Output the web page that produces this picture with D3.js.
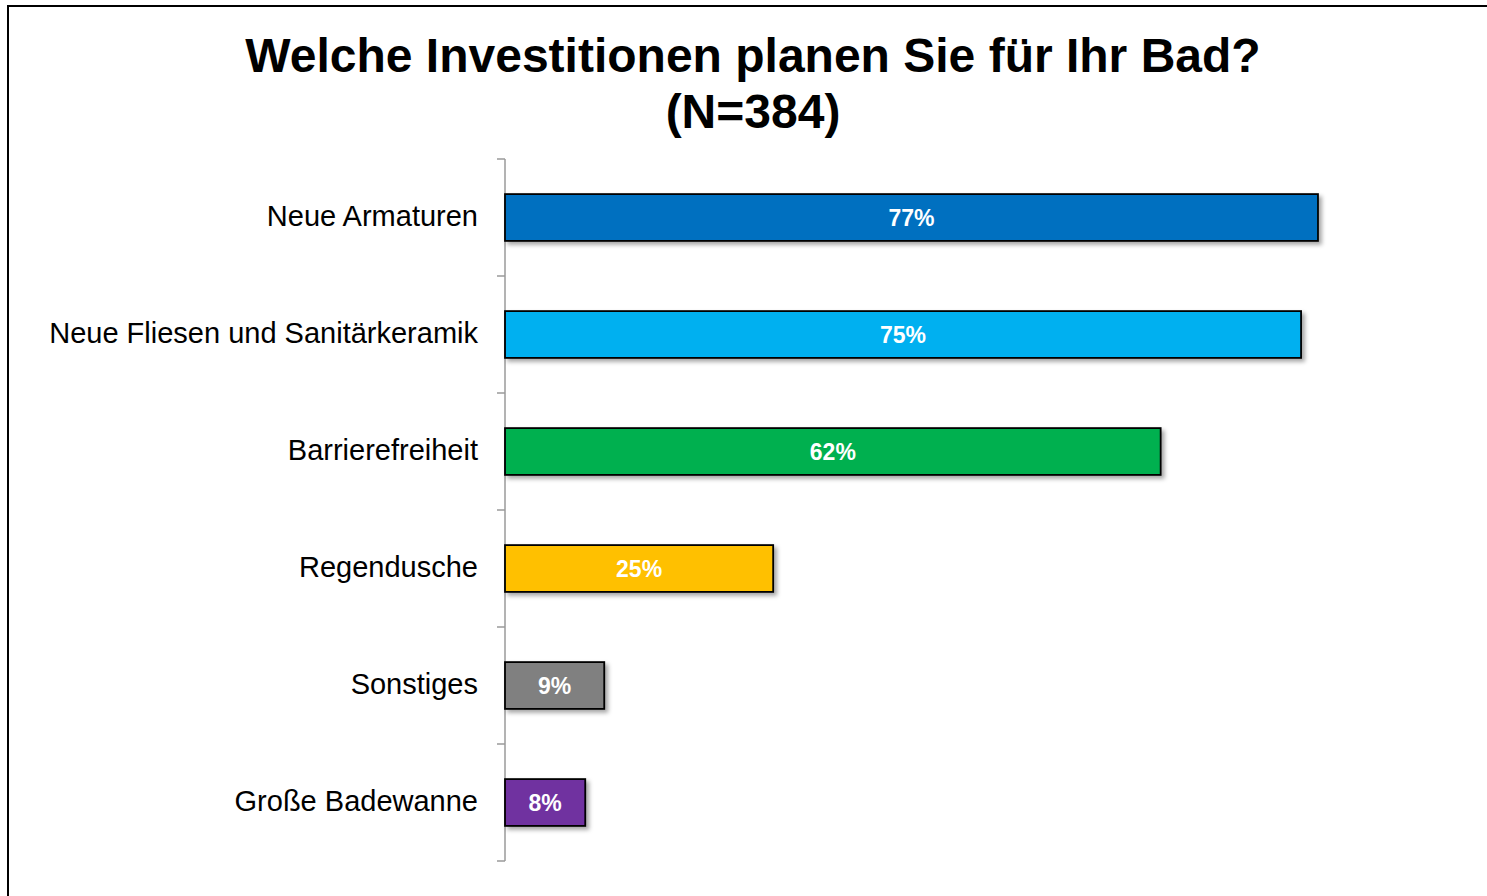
<!DOCTYPE html>
<html>
<head>
<meta charset="utf-8">
<script src="https://cdn.jsdelivr.net/npm/d3@7"></script>
<style>
  body { margin: 0; background: #fff; }
  svg { display: block; font-family: "Liberation Sans", Arial, sans-serif; }
</style>
</head>
<body>
<div id="chart"></div>
<script>
var categories = ["Neue Armaturen", "Neue Fliesen und Sanitärkeramik", "Barrierefreiheit", "Regendusche", "Sonstiges", "Große Badewanne"],
	values = [77, 75.4, 62.1, 25.4, 9.4, 7.6],
	valueLabels = ["77%", "75%", "62%", "25%", "9%", "8%"],
	colors = ["#0070C0", "#00B0F0", "#00B050", "#FFC000", "#808080", "#7030A0"],
	titleLines = ["Welche Investitionen planen Sie für Ihr Bad?", "(N=384)"];

var width = 1487,
	height = 896,
	data = categories.map(function(c, i){
		return {name: c, value: values[i], label: valueLabels[i], color: colors[i]};
	});

var svg = d3.select("#chart")
	.append("svg")
	.attr("width", width)
	.attr("height", height);

var defs = svg.append("defs");
defs.append("filter")
	.attr("id", "shadow")
	.attr("x", "-5%").attr("y", "-20%")
	.attr("width", "115%").attr("height", "160%")
	.append("feDropShadow")
	.attr("dx", 3).attr("dy", 3)
	.attr("stdDeviation", 2)
	.attr("flood-color", "#000")
	.attr("flood-opacity", 0.35);

// frame
svg.append("rect")
	.attr("x", 8).attr("y", 6)
	.attr("width", width + 20).attr("height", height + 20)
	.attr("fill", "none")
	.attr("stroke", "#000")
	.attr("stroke-width", 2);

// title
svg.selectAll(".title")
	.data(titleLines)
	.enter()
	.append("text")
	.attr("class", "title")
	.attr("x", 753)
	.attr("y", function(d, i){ return 72 + i * 56; })
	.attr("text-anchor", "middle")
	.attr("font-size", 48)
	.attr("font-weight", "bold")
	.text(function(d){ return d; });

var x = d3.scaleLinear()
	.domain([0, 80])
	.range([505, 505 + 80 * 10.558]);

var y = d3.scaleBand()
	.domain(categories)
	.range([159, 861])
	.paddingInner(0.6)
	.paddingOuter(0.3);

// category axis: line and ticks on band boundaries
var axis = svg.append("g").attr("class", "axis");
axis.append("line")
	.attr("x1", x(0)).attr("x2", x(0))
	.attr("y1", y.range()[0]).attr("y2", y.range()[1])
	.attr("stroke", "#9a9a9a")
	.attr("stroke-width", 1.5);
axis.selectAll(".tick")
	.data(d3.range(categories.length + 1))
	.enter()
	.append("line")
	.attr("x1", x(0) - 8).attr("x2", x(0))
	.attr("y1", function(i){ return y.range()[0] + i * y.step(); })
	.attr("y2", function(i){ return y.range()[0] + i * y.step(); })
	.attr("stroke", "#9a9a9a")
	.attr("stroke-width", 1.5);

svg.selectAll(".cat")
	.data(data)
	.enter()
	.append("text")
	.attr("class", "cat")
	.attr("x", 478)
	.attr("y", function(d){ return y(d.name) + y.bandwidth() / 2; })
	.attr("dy", "0.3em")
	.attr("text-anchor", "end")
	.attr("font-size", 29)
	.attr("fill", "#000")
	.text(function(d){ return d.name; });

svg.selectAll(".bar")
	.data(data)
	.enter()
	.append("rect")
	.attr("class", "bar")
	.attr("x", x(0))
	.attr("y", function(d){ return y(d.name); })
	.attr("width", function(d){ return x(d.value) - x(0); })
	.attr("height", y.bandwidth())
	.attr("fill", function(d){ return d.color; })
	.attr("stroke", "#000")
	.attr("stroke-width", 1.8)
	.attr("filter", "url(#shadow)");

svg.selectAll(".val")
	.data(data)
	.enter()
	.append("text")
	.attr("class", "val")
	.attr("x", function(d){ return (x(0) + x(d.value)) / 2; })
	.attr("y", function(d){ return y(d.name) + y.bandwidth() / 2; })
	.attr("dy", "0.36em")
	.attr("text-anchor", "middle")
	.attr("font-size", 23)
	.attr("font-weight", "bold")
	.attr("fill", "#fff")
	.text(function(d){ return d.label; });
</script>
</body>
</html>
